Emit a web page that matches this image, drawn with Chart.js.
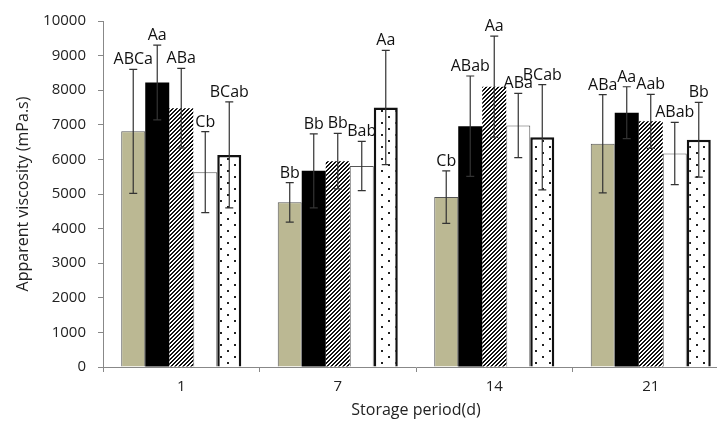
<!DOCTYPE html>
<html lang="en">
<head>
    <meta charset="UTF-8">
    <title>Apparent viscosity</title>
    <script src="https://cdn.jsdelivr.net/npm/chart.js"></script>
    <style>
        html, body { margin: 0; padding: 0; background: #fff; overflow: hidden; }
        #wrap { width: 717px; height: 425px; overflow: hidden; }
    </style>
</head>
<body>
    <div id="wrap">
        <canvas id="viscosity" width="740" height="425"></canvas>
    </div>

    <script>
        // Data
        const days = ['1', '7', '14', '21'];

        const khakiVals = [6810, 4760, 4910, 6450];
        const blackVals = [8220, 5670, 6960, 7350];
        const hatchVals = [7480, 5950, 8100, 7100];
        const whiteVals = [5630, 5810, 6980, 6170];
        const dotVals = [6130, 7500, 6640, 6570];

        const khakiSd = [1790, 570, 760, 1420];
        const blackSd = [1080, 1070, 1450, 750];
        const hatchSd = [1150, 800, 1460, 780];
        const whiteSd = [1170, 710, 930, 900];
        const dotSd = [1530, 1650, 1520, 1080];

        const khakiTags = ['ABCa', 'Bb', 'Cb', 'ABa'];
        const blackTags = ['Aa', 'Bb', 'ABab', 'Aa'];
        const hatchTags = ['ABa', 'Bb', 'Aa', 'Aab'];
        const whiteTags = ['Cb', 'Bab', 'ABa', 'ABab'];
        const dotTags = ['BCab', 'Aa', 'BCab', 'Bb'];

        const yTicks = [0, 1000, 2000, 3000, 4000, 5000, 6000, 7000, 8000, 9000, 10000];

        const font = "'Open Sans', 'DejaVu Sans', sans-serif";

        // fill patterns (pixel tiles so they stay crisp)
        function hatchPattern() {
            const c = document.createElement('canvas');
            c.width = 4; c.height = 4;
            const g = c.getContext('2d');
            g.fillStyle = '#fff';
            g.fillRect(0, 0, 4, 4);
            g.fillStyle = '#111';
            for (let x = 0; x < 4; x++) {
                for (let y = 0; y < 4; y++) {
                    if ((x + y) % 4 < 2) g.fillRect(x, y, 1, 1);
                }
            }
            return g.createPattern(c, 'repeat');
        }

        function dotPattern() {
            const c = document.createElement('canvas');
            c.width = 14; c.height = 12;
            const g = c.getContext('2d');
            g.fillStyle = '#fff';
            g.fillRect(0, 0, 14, 12);
            g.fillStyle = '#222';
            g.fillRect(3, 2, 2, 2);
            g.fillRect(10, 8, 2, 2);
            return g.createPattern(c, 'repeat');
        }

        const sdList = [khakiSd, blackSd, hatchSd, whiteSd, dotSd];
        const tagList = [khakiTags, blackTags, hatchTags, whiteTags, dotTags];

        // error bars + significance letters
        const errorBars = {
            id: 'errorBars',
            afterDatasetsDraw(chart) {
                const ctx = chart.ctx;
                const y = chart.scales.y;
                ctx.save();
                chart.data.datasets.forEach((ds, i) => {
                    const meta = chart.getDatasetMeta(i);
                    meta.data.forEach((bar, j) => {
                        const v = ds.data[j];
                        const sd = sdList[i][j];
                        const top = y.getPixelForValue(v + sd);
                        const bot = y.getPixelForValue(v - sd);
                        ctx.strokeStyle = '#333';
                        ctx.lineWidth = 1.2;
                        ctx.beginPath();
                        ctx.moveTo(bar.x, top); ctx.lineTo(bar.x, bot);
                        ctx.moveTo(bar.x - 4, top); ctx.lineTo(bar.x + 4, top);
                        ctx.moveTo(bar.x - 4, bot); ctx.lineTo(bar.x + 4, bot);
                        ctx.stroke();

                        ctx.fillStyle = '#111';
                        ctx.font = '16px ' + font;
                        ctx.textAlign = 'center';
                        ctx.textBaseline = 'alphabetic';
                        ctx.fillText(tagList[i][j], bar.x, top - 5);
                    });
                });
                ctx.restore();
            }
        };

        document.addEventListener('DOMContentLoaded', function() {
            const ctx = document.getElementById('viscosity').getContext('2d');
            new Chart(ctx, {
                type: 'bar',
                data: {
                    labels: days,
                    datasets: [
                        { label: 'S1', data: khakiVals, backgroundColor: '#bbb893', borderColor: '#555', borderWidth: 1 },
                        { label: 'S2', data: blackVals, backgroundColor: '#000', borderColor: '#000', borderWidth: 0 },
                        { label: 'S3', data: hatchVals, backgroundColor: hatchPattern(), borderWidth: 0 },
                        { label: 'S4', data: whiteVals, backgroundColor: '#fff', borderColor: '#555', borderWidth: 1 },
                        { label: 'S5', data: dotVals, backgroundColor: dotPattern(), borderColor: '#111', borderWidth: 2.5 }
                    ]
                },
                options: {
                    responsive: false,
                    animation: false,
                    devicePixelRatio: 1,
                    layout: { padding: { top: 18, right: 11, left: 0, bottom: 0 } },
                    datasets: { bar: { categoryPercentage: 0.767, barPercentage: 1.0 } },
                    plugins: {
                        legend: { display: false },
                        tooltip: { enabled: false }
                    },
                    scales: {
                        x: {
                            grid: { offset: true, drawOnChartArea: false, drawTicks: true, tickLength: 5, color: '#888' },
                            border: { display: true, color: '#888' },
                            ticks: { color: '#222', font: { family: font, size: 15 }, padding: 6 },
                            title: { display: true, text: 'Storage period(d)', color: '#222', font: { family: font, size: 16 }, padding: { top: 0, bottom: 5 } },
                            afterFit(scale) { scale.height = 58; }
                        },
                        y: {
                            min: 0,
                            max: 10000,
                            afterBuildTicks(scale) { scale.ticks = yTicks.map(v => ({ value: v })); },
                            grid: { drawOnChartArea: false, drawTicks: true, tickLength: 5, color: '#888' },
                            border: { display: true, color: '#888' },
                            ticks: {
                                color: '#222',
                                font: { family: font, size: 15 },
                                padding: 12,
                                callback: v => String(v)
                            },
                            title: { display: true, text: 'Apparent viscosity (mPa.s)', color: '#222', font: { family: font, size: 16 }, padding: { top: 14, bottom: 0 } },
                            afterFit(scale) { scale.width = 103; }
                        }
                    }
                },
                plugins: [errorBars]
            });
        });
    </script>
</body>
</html>
